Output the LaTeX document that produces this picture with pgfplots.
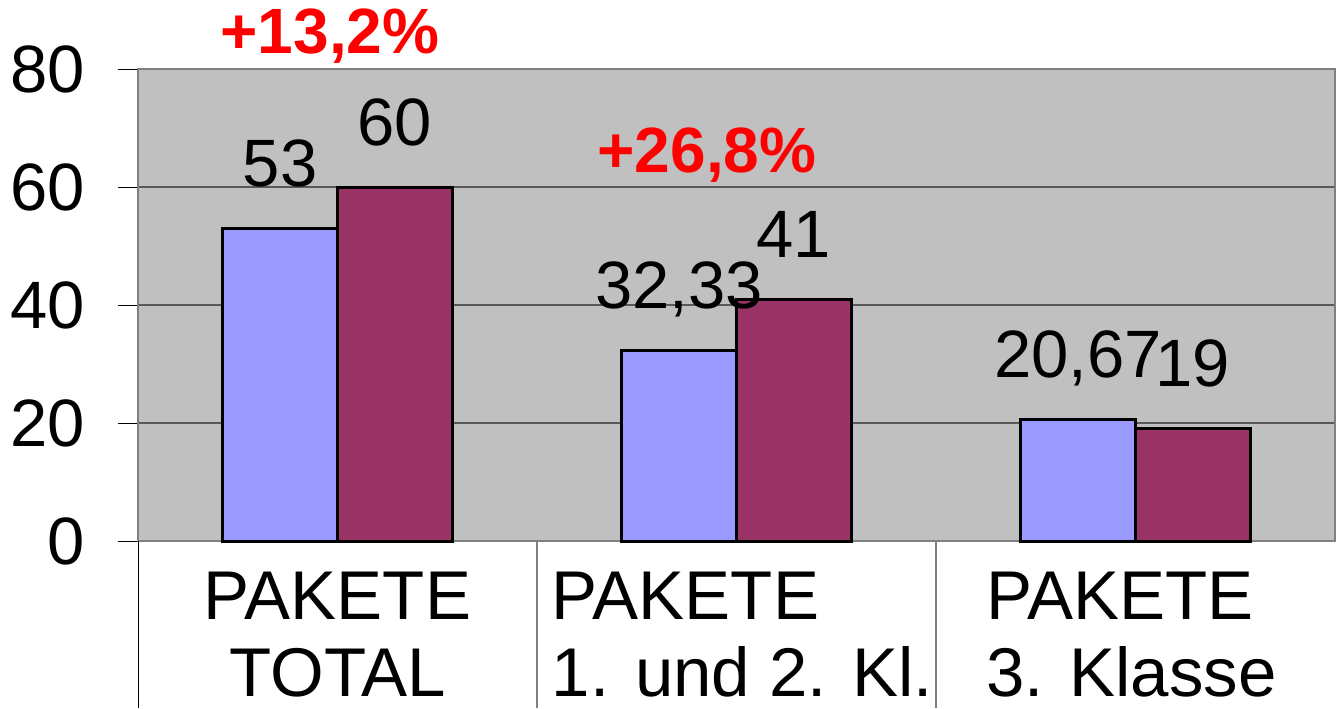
\documentclass[border=0pt]{standalone}
\usepackage{pgfplots}
\pgfplotsset{compat=1.18}
\usepackage{fontspec}
\setmainfont{Liberation Sans}
\definecolor{barblue}{RGB}{153,153,255}
\definecolor{barred}{RGB}{153,51,102}
\definecolor{plotbg}{RGB}{192,192,192}
\definecolor{bordergray}{RGB}{128,128,128}
\begin{document}
\begin{tikzpicture}
\useasboundingbox (-69pt,-83.5pt) rectangle (599.5pt,270.5pt);
\begin{axis}[
  at={(0,0)}, anchor=south west,
  scale only axis, width=598.5pt, height=236pt,
  ybar=0pt, bar width=0.288,
  xmin=-0.5, xmax=2.5, ymin=0, ymax=80,
  xtick={0,1,2},
  xticklabels={
    {\begin{tabular}{@{}c@{}}PAKETE\\TOTAL\end{tabular}},
    {\hspace*{6pt}\begin{tabular}{@{}l@{}}PAKETE\\1. und 2. Kl.\end{tabular}},
    {\begin{tabular}{@{}l@{}}PAKETE\\3. Klasse\end{tabular}\hspace*{4pt}}},
  ytick={0,20,40,60,80},
  ymajorgrids, grid style={color=black!65, line width=0.6pt},
  axis background/.style={fill=plotbg},
  axis line style={bordergray, line width=1pt},
  tick align=outside, major tick length=10pt,
  xtick pos=bottom, ytick pos=left,
  x tick style={draw=none},
  y tick style={black, line width=0.5pt},
  yticklabel style={anchor=east, xshift=-13pt, font=\fontsize{33.5}{38}\selectfont},
  xticklabel style={anchor=north, inner sep=0pt, yshift=-2pt, font=\fontsize{34.5}{38.5}\selectfont},
  /pgf/number format/assume math mode=true,
  /pgf/number format/.cd, use comma, fixed, precision=2,
  /pgfplots/.cd,
  nodes near coords,
  every node near coord/.append style={font=\fontsize{33.5}{38}\selectfont, anchor=base, yshift=21pt, text=black},
  clip=false,
]
\addplot[fill=barblue, draw=black, line width=1.5pt] coordinates {(0,53) (1,32.33) (2,20.67)};
\addplot[fill=barred, draw=black, line width=1.5pt] coordinates {(0,60) (1,41) (2,19)};
\draw[black, line width=0.5pt] (axis cs:-0.5,0) -- ++(0pt,-83.5pt);
\draw[bordergray, line width=0.8pt] (axis cs:0.5,0) -- ++(0pt,-83.5pt);
\draw[bordergray, line width=0.8pt] (axis cs:1.5,0) -- ++(0pt,-83.5pt);
\node[text=red, font=\bfseries\fontsize{32}{38}\selectfont, anchor=base] at (axis cs:-0.019,82.7) {+13,2\%};
\node[text=red, font=\bfseries\fontsize{32}{38}\selectfont, anchor=base] at (axis cs:0.926,62.5) {+26,8\%};
\end{axis}
\end{tikzpicture}
\end{document}
